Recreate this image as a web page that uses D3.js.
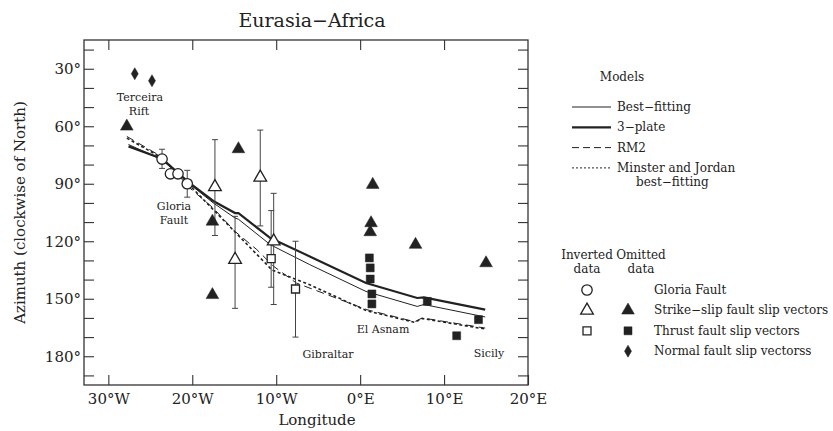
<!DOCTYPE html>
<html>
<head>
<meta charset="utf-8">
<script src="https://cdn.jsdelivr.net/npm/d3@7"></script>
<style>
    body { margin: 0; background: #fff; }
    text { font-family: "DejaVu Serif", serif; fill: #222; }
</style>
</head>
<body>
<div id="svg-div"></div>
<script>
// model curves (longitude, azimuth)
const bestLon = [-27.6, -23.6, -20.5, -17.5, -14.9, -14.5, -10.7, -6.0, 0.7, 6.8, 7.6, 14.9];
const bestAz = [69.5, 77.5, 89.5, 100, 107.9, 108.5, 121.8, 132.2, 146.2, 154, 153, 159.5];
const plate3Lon = [-27.6, -23.6, -20.5, -17.5, -14.9, -14.5, -10.7, -6.0, 0.7, 6.8, 7.6, 14.9];
const plate3Az = [70.5, 77, 89, 99, 105.3, 105.3, 118.3, 127.9, 141.8, 149.6, 149.3, 155.7];
const rm2Lon = [-27.8, -23.6, -20.3, -17.5, -14.9, -12.3, -10.3, -7.6, 0.8, 6.5, 7.4, 14.9];
const rm2Az = [65.3, 76, 92.2, 102.7, 114.9, 124.4, 133.1, 141.8, 155.7, 162, 160, 165.3];
const mjLon = [-27.8, -23.6, -20.5, -10.5, -6.0, 0.8, 6.5, 7.4, 14.9];
const mjAz = [66.2, 76.5, 90, 135, 142.7, 156.3, 162.3, 160.3, 165.8];

// inverted data with error bars
const gloriaLon = [-23.6, -22.6, -21.7, -20.6];
const gloriaAz = [77.1, 84.8, 84.8, 90.0];
const gloriaLo = [72, 84.8, 84.8, 83];
const gloriaHi = [82, 84.8, 84.8, 97];
const ssInvLon = [-17.3, -11.9, -14.9, -10.3];
const ssInvAz = [91.7, 86.7, 129.6, 120];
const ssInvLo = [67, 62, 107, 95];
const ssInvHi = [117, 112, 155, 153];
const thInvLon = [-10.6, -7.7];
const thInvAz = [129.1, 144.9];
const thInvLo = [104, 120];
const thInvHi = [144, 170];

// omitted data
const ssOmLon = [-27.8, -14.5, 1.5, -17.6, -17.6, 1.3, 1.2, 6.6, 15.0];
const ssOmAz = [60.1, 71.9, 90.5, 109.7, 148, 110.5, 115.2, 121.8, 131.4];
const thOmLon = [1.1, 1.2, 1.2, 1.4, 1.4, 8.0, 14.1, 11.5];
const thOmAz = [128.7, 133.9, 139.7, 147.5, 152.7, 151.4, 160.9, 169.3];
const nfOmLon = [-26.85, -24.8];
const nfOmAz = [32.6, 36.3];

const xTicks = [-30, -20, -10, 0, 10, 20];
const yTicks = d3.range(20, 191, 10);
const yLabelTicks = [30, 60, 90, 120, 150, 180];

const margin = { top: 40, right: 305, bottom: 46, left: 84 };
const width = 833 - margin.left - margin.right;
const height = 431 - margin.top - margin.bottom;
const ink = "#222";

const svg = d3.select("#svg-div").append("svg")
    .attr("width", 833).attr("height", 431);
const g = svg.append("g")
    .attr("transform", "translate(" + margin.left + "," + margin.top + ")");

const x = d3.scaleLinear().domain([-32.9, 20]).range([0, width]);
const y = d3.scaleLinear().domain([15, 195]).range([0, height]);

function lonLabel(d) {
    if (d < 0) return (-d) + "°W";
    return d + "°E";
}

// axes, ticks pointing inwards
const axisStyle = sel => {
    sel.select(".domain").remove();
    sel.selectAll("line").attr("stroke", "#333").attr("stroke-width", 1.1);
    sel.selectAll("text").style("font-size", "15px").attr("fill", ink);
};
g.append("g").attr("transform", "translate(0," + height + ")")
    .call(d3.axisBottom(x).tickValues(xTicks).tickSize(-10).tickPadding(8).tickFormat(lonLabel))
    .call(axisStyle);
g.append("g")
    .call(d3.axisTop(x).tickValues(xTicks.slice(0, 5)).tickSize(-10).tickFormat(""))
    .call(axisStyle);
g.append("g")
    .call(d3.axisLeft(y).tickValues(yTicks).tickSize(-10).tickPadding(3)
        .tickFormat(d => yLabelTicks.includes(d) ? d + "°" : ""))
    .call(axisStyle);
g.append("g").attr("transform", "translate(" + width + ",0)")
    .call(d3.axisRight(y).tickValues(yTicks).tickSize(-10).tickFormat(""))
    .call(axisStyle);
g.append("rect").attr("width", width).attr("height", height)
    .attr("fill", "none").attr("stroke", "#333").attr("stroke-width", 1.3);

// titles
svg.append("text").attr("x", 312).attr("y", 27).attr("text-anchor", "middle")
    .style("font-size", "19px").text("Eurasia\u2212Africa");
svg.append("text").attr("x", 317).attr("y", 425).attr("text-anchor", "middle")
    .style("font-size", "15px").text("Longitude");
svg.append("text").attr("transform", "translate(25," + (margin.top + height / 2) + ") rotate(-90)")
    .attr("text-anchor", "middle").style("font-size", "15px")
    .text("Azimuth (clockwise of North)");

// model lines
const line = d3.line().x(d => x(d[0])).y(d => y(d[1]));
const models = [
    { lon: bestLon, az: bestAz, w: 1, dash: null },
    { lon: plate3Lon, az: plate3Az, w: 2.2, dash: null },
    { lon: rm2Lon, az: rm2Az, w: 1, dash: "8,5" },
    { lon: mjLon, az: mjAz, w: 1.6, dash: "3,2.5" }
];
models.forEach(m => {
    g.append("path").datum(d3.zip(m.lon, m.az)).attr("d", line)
        .attr("fill", "none").attr("stroke", ink)
        .attr("stroke-width", m.w).attr("stroke-dasharray", m.dash);
});

// error bars
function errorBars(lon, lo, hi) {
    const eb = g.append("g").attr("stroke", "#444").attr("stroke-width", 1);
    lon.forEach((d, i) => {
        if (hi[i] - lo[i] < 0.5) return;
        eb.append("line").attr("x1", x(d)).attr("x2", x(d)).attr("y1", y(lo[i])).attr("y2", y(hi[i]));
        [lo[i], hi[i]].forEach(v => eb.append("line")
            .attr("x1", x(d) - 3).attr("x2", x(d) + 3).attr("y1", y(v)).attr("y2", y(v)));
    });
}
errorBars(gloriaLon, gloriaLo, gloriaHi);
errorBars(ssInvLon, ssInvLo, ssInvHi);
errorBars(thInvLon, thInvLo, thInvHi);

// markers
const sym = {
    circle: d3.symbol().type(d3.symbolCircle).size(85),
    triangle: d3.symbol().type(d3.symbolTriangle).size(70),
    square: d3.symbol().type(d3.symbolSquare).size(64)
};
function diamondPath() {
    return "M0,-6L3.5,0L0,6L-3.5,0Z";
}
function markers(lon, az, shape, filled) {
    g.append("g").selectAll("path")
        .data(d3.zip(lon, az)).enter()
        .append("path")
        .attr("transform", d => "translate(" + x(d[0]) + "," + y(d[1]) + ")")
        .attr("d", shape === "diamond" ? diamondPath() : sym[shape]())
        .attr("fill", filled ? ink : "#fff")
        .attr("stroke", ink).attr("stroke-width", filled ? 0.5 : 1.3);
}
markers(gloriaLon, gloriaAz, "circle", false);
markers(ssInvLon, ssInvAz, "triangle", false);
markers(thInvLon, thInvAz, "square", false);
markers(ssOmLon, ssOmAz, "triangle", true);
markers(thOmLon, thOmAz, "square", true);
markers(nfOmLon, nfOmAz, "diamond", true);

// place names
const places = [
    ["Terceira", 140, 101], ["Rift", 139, 115],
    ["Gloria", 174, 210], ["Fault", 174, 224],
    ["Gibraltar", 328, 358], ["El Asnam", 383, 333], ["Sicily", 489, 357]
];
svg.append("g").selectAll("text").data(places).enter()
    .append("text").attr("x", d => d[1]).attr("y", d => d[2])
    .attr("text-anchor", "middle").style("font-size", "11px").text(d => d[0]);

// legend: models
const lg = svg.append("g").style("font-size", "12px");
lg.append("text").attr("x", 622).attr("y", 81).attr("text-anchor", "middle").text("Models");
const modelNames = ["Best\u2212fitting", "3\u2212plate", "RM2", "Minster and Jordan"];
const legendDash = [null, null, "7,4", "2,2"];
const legendW = [1, 2.2, 1, 1];
modelNames.forEach((name, i) => {
    const ly = 107 + i * 20.3;
    lg.append("line").attr("x1", 572).attr("x2", 611).attr("y1", ly).attr("y2", ly)
        .attr("stroke", ink).attr("stroke-width", legendW[i]).attr("stroke-dasharray", legendDash[i]);
    lg.append("text").attr("x", 617).attr("y", ly + 4).text(name);
});
lg.append("text").attr("x", 636).attr("y", 186).text("best\u2212fitting");

// legend: data
lg.append("text").attr("x", 587).attr("y", 259).attr("text-anchor", "middle").text("Inverted");
lg.append("text").attr("x", 641).attr("y", 259).attr("text-anchor", "middle").text("Omitted");
lg.append("text").attr("x", 587).attr("y", 273).attr("text-anchor", "middle").text("data");
lg.append("text").attr("x", 641).attr("y", 273).attr("text-anchor", "middle").text("data");
const dataRows = [
    ["Gloria Fault", "circle", null],
    ["Strike\u2212slip fault slip vectors", "triangle", "triangle"],
    ["Thrust fault slip vectors", "square", "square"],
    ["Normal fault slip vectorss", null, "diamond"]
];
dataRows.forEach((r, i) => {
    const ry = 290 + i * 20.4;
    if (r[1]) lg.append("path").attr("transform", "translate(587," + ry + ")")
        .attr("d", sym[r[1]]()).attr("fill", "#fff").attr("stroke", ink).attr("stroke-width", 1.3);
    if (r[2]) lg.append("path").attr("transform", "translate(628," + ry + ")")
        .attr("d", r[2] === "diamond" ? diamondPath() : sym[r[2]]())
        .attr("fill", ink).attr("stroke", ink).attr("stroke-width", 0.5);
    lg.append("text").attr("x", 654).attr("y", ry + 4).text(r[0]);
});
</script>
</body>
</html>
